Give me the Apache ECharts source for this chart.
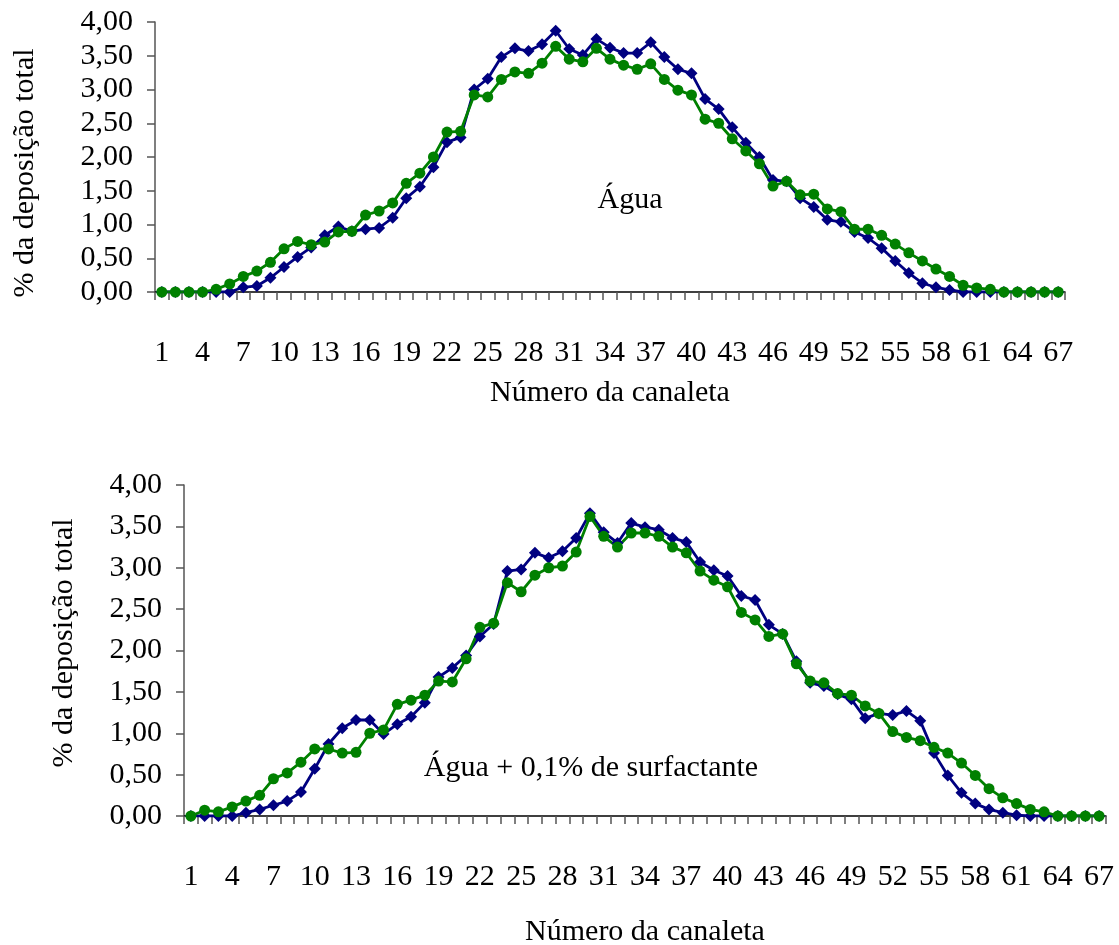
<!DOCTYPE html>
<html>
<head>
<meta charset="utf-8">
<script src="https://cdn.jsdelivr.net/npm/echarts@6/dist/echarts.min.js"></script>
<style>
  html, body { margin: 0; padding: 0; background: #fff; }
  #chart { width: 1119px; height: 945px; }
</style>
</head>
<body>
<div id="chart"></div>
<script>
// canaleta numbers 1..67
const canaletas = [];
for (let i = 1; i <= 67; i++) canaletas.push(String(i));

// Água
const aguaBlue = [0, 0, 0, 0, 0, 0.00, 0.07, 0.09, 0.21, 0.37, 0.52, 0.66, 0.84, 0.97, 0.90, 0.93, 0.95, 1.10, 1.39, 1.56,
  1.85, 2.22, 2.29, 3.00, 3.16, 3.48, 3.61, 3.57, 3.67, 3.87, 3.60, 3.51, 3.75, 3.62, 3.54, 3.54, 3.70, 3.48, 3.30, 3.24,
  2.86, 2.71, 2.44, 2.21, 2.00, 1.66, 1.64, 1.39, 1.26, 1.07, 1.04, 0.89, 0.80, 0.65, 0.46, 0.28, 0.13, 0.07, 0.03, 0,
  0, 0, 0, 0, 0, 0, 0];
const aguaGreen = [0, 0, 0, 0, 0.04, 0.12, 0.23, 0.31, 0.44, 0.64, 0.75, 0.70, 0.74, 0.89, 0.90, 1.14, 1.20, 1.32, 1.61, 1.76,
  2.00, 2.37, 2.38, 2.92, 2.89, 3.15, 3.26, 3.24, 3.39, 3.64, 3.45, 3.41, 3.61, 3.45, 3.36, 3.30, 3.38, 3.15, 2.99, 2.92,
  2.56, 2.50, 2.27, 2.09, 1.90, 1.57, 1.64, 1.44, 1.45, 1.23, 1.19, 0.93, 0.93, 0.84, 0.71, 0.58, 0.46, 0.34, 0.23, 0.10,
  0.06, 0.04, 0, 0, 0, 0, 0];

// Água + 0,1% de surfactante
const surfBlue = [0, 0, 0, 0, 0.04, 0.08, 0.13, 0.18, 0.29, 0.57, 0.87, 1.06, 1.16, 1.16, 0.99, 1.11, 1.20, 1.37, 1.68, 1.79,
  1.94, 2.17, 2.32, 2.96, 2.98, 3.18, 3.12, 3.20, 3.36, 3.66, 3.43, 3.30, 3.54, 3.49, 3.46, 3.36, 3.31, 3.07, 2.97, 2.90,
  2.66, 2.61, 2.31, 2.20, 1.87, 1.61, 1.57, 1.47, 1.41, 1.18, 1.24, 1.22, 1.27, 1.15, 0.76, 0.49, 0.28, 0.15, 0.08, 0.04,
  0.01, 0, 0, 0, 0, 0, 0];
const surfGreen = [0, 0.07, 0.05, 0.11, 0.18, 0.25, 0.45, 0.52, 0.65, 0.81, 0.81, 0.76, 0.77, 1.00, 1.04, 1.35, 1.40, 1.46, 1.63, 1.62,
  1.90, 2.28, 2.33, 2.82, 2.71, 2.91, 3.00, 3.02, 3.19, 3.62, 3.38, 3.25, 3.42, 3.42, 3.38, 3.25, 3.18, 2.96, 2.85, 2.77,
  2.46, 2.37, 2.17, 2.20, 1.84, 1.63, 1.61, 1.48, 1.46, 1.33, 1.24, 1.02, 0.95, 0.91, 0.83, 0.76, 0.64, 0.49, 0.33, 0.22,
  0.15, 0.08, 0.05, 0, 0, 0, 0];

const FONT = 'Liberation Serif';
const FS = 30;
const BLUE = '#000080';
const GREEN = '#008000';

function xAxisFor(gridIndex, gap) {
  return {
    type: 'category',
    gridIndex: gridIndex,
    data: canaletas,
    boundaryGap: true,
    name: 'Número da canaleta',
    nameLocation: 'middle',
    nameGap: gap,
    nameTextStyle: { fontFamily: FONT, fontSize: FS, color: '#000' },
    axisLine: { lineStyle: { color: '#000', width: 1.5 } },
    axisTick: { show: true, interval: 0, length: 8, lineStyle: { color: '#555', width: 1.5 } },
    axisLabel: { interval: 2, margin: 46, fontFamily: FONT, fontSize: FS, color: '#000' },
    splitLine: { show: false }
  };
}

function yAxisFor(gridIndex) {
  return {
    type: 'value',
    gridIndex: gridIndex,
    min: 0,
    max: 4,
    interval: 0.5,
    axisLine: { show: true, lineStyle: { color: '#555', width: 1.5 } },
    axisTick: { show: true, length: 8, lineStyle: { color: '#555', width: 1.5 } },
    axisLabel: {
      margin: 22, fontFamily: FONT, fontSize: FS, color: '#000',
      formatter: v => v.toFixed(2).replace('.', ',')
    },
    splitLine: { show: false }
  };
}

function lineSeries(data, idx, color, symbol, size) {
  return {
    type: 'line',
    xAxisIndex: idx,
    yAxisIndex: idx,
    data: data,
    symbol: symbol,
    symbolSize: size,
    showSymbol: true,
    showAllSymbol: true,
    lineStyle: { color: color, width: 2.8 },
    itemStyle: { color: color },
    animation: false
  };
}

const chart = echarts.init(document.getElementById('chart'));
chart.setOption({
  backgroundColor: '#fff',
  animation: false,
  grid: [
    { left: 155, top: 22, width: 910, height: 270, outerBoundsMode: 'none', containLabel: false },
    { left: 184, top: 485, width: 922, height: 331, outerBoundsMode: 'none', containLabel: false }
  ],
  xAxis: [xAxisFor(0, 86), xAxisFor(1, 101)],
  yAxis: [yAxisFor(0), yAxisFor(1)],
  series: [
    lineSeries(aguaBlue, 0, BLUE, 'diamond', 12),
    lineSeries(aguaGreen, 0, GREEN, 'circle', 11),
    lineSeries(surfBlue, 1, BLUE, 'diamond', 12),
    lineSeries(surfGreen, 1, GREEN, 'circle', 11)
  ],
  graphic: [
    {
      type: 'text', x: 25, y: 173, rotation: Math.PI / 2,
      style: { text: '% da deposição total', font: FS + 'px "Liberation Serif"', fill: '#000', align: 'center', verticalAlign: 'middle' }
    },
    {
      type: 'text', x: 64, y: 643, rotation: Math.PI / 2,
      style: { text: '% da deposição total', font: FS + 'px "Liberation Serif"', fill: '#000', align: 'center', verticalAlign: 'middle' }
    },
    {
      type: 'text', x: 630, y: 200,
      style: { text: 'Água', font: FS + 'px "Liberation Serif"', fill: '#000', align: 'center', verticalAlign: 'middle' }
    },
    {
      type: 'text', x: 591, y: 768,
      style: { text: 'Água + 0,1% de surfactante', font: FS + 'px "Liberation Serif"', fill: '#000', align: 'center', verticalAlign: 'middle' }
    }
  ]
});
</script>
</body>
</html>
